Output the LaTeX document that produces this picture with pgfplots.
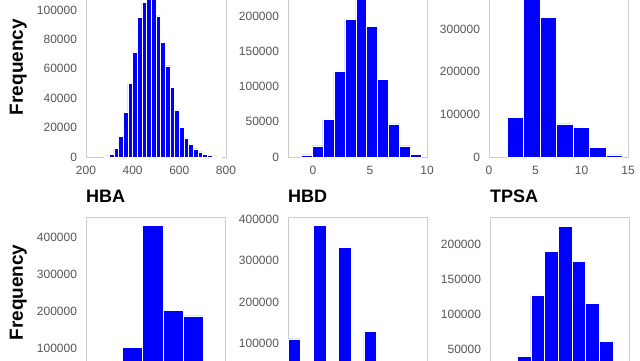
\documentclass[border=0pt]{standalone}
\usepackage{fontspec}
\setmainfont{Liberation Sans}
\usepackage{pgfplots}
\pgfplotsset{compat=1.18}
\definecolor{tickgray}{RGB}{85,85,85}
\definecolor{framegray}{RGB}{204,204,204}
\definecolor{barblue}{RGB}{0,0,255}
\pgfplotsset{
  hist/.style={
    scale only axis, width=139pt, height=168pt, anchor=south west,
    axis line style={framegray, line width=0.8pt},
    major tick length=0pt,
    tick label style={font=\fontsize{12}{12}\selectfont, text=tickgray},
    xticklabel style={yshift=-6pt},
    yticklabel style={xshift=-5.5pt},
    /pgf/number format/assume math mode=true,
    /pgf/number format/fixed,
    /pgf/number format/precision=0,
    /pgf/number format/1000 sep={},
    scaled ticks=false,
    ymin=0,
    title style={at={(0,1)}, anchor=base west, yshift=9pt, inner sep=0pt,
      font=\bfseries\fontsize{18}{18}\selectfont},
  },
  bars/.style={ybar interval, fill=barblue, draw=white, line width=0.5pt},
}
\begin{document}
\begin{tikzpicture}
\useasboundingbox (0,0) rectangle (640pt,360pt);
\clip (0,0) rectangle (640pt,360pt);
% ---------- top row ----------
\begin{axis}[hist, at={(86pt,203pt)}, width=140pt,
  xmin=200, xmax=800, ymax=114300,
  xtick={200,400,600,800}, ytick={0,20000,40000,60000,80000,100000}]
\addplot[bars] coordinates {
(280,700)(300,2000)(320,5700)(340,14000)(360,30600)(380,50000)(400,71400)
(420,95000)(440,105000)(460,109000)(480,108500)(500,96000)(520,78000)
(540,62000)(560,47600)(580,32000)(600,20000)(620,13000)(640,8500)
(660,5500)(680,3500)(700,2000)(720,1200)(740,700)(760,300)(780,0)};
\end{axis}
\begin{axis}[hist, at={(288pt,203pt)},
  xmin=-2.2, xmax=10, ymax=239000,
  xtick={0,5,10}, ytick={0,50000,100000,150000,200000}]
\addplot[bars] coordinates {
(-1.05,3000)(-0.09,16000)(0.87,53500)(1.83,121500)(2.79,196000)(3.75,228000)
(4.71,186000)(5.67,110000)(6.63,47000)(7.59,16000)(8.55,4000)(9.51,0)};
\end{axis}
\begin{axis}[hist, at={(489pt,203pt)},
  xmin=0, xmax=15, ymax=394000,
  xtick={0,5,10,15}, ytick={0,100000,200000,300000}]
\addplot[bars] coordinates {
(1.96,93200)(3.74,375000)(5.52,328000)(7.3,77500)(9.08,69700)(10.86,22800)
(12.64,4700)(14.42,0)};
\end{axis}
% ---------- bottom row ----------
\begin{axis}[hist, at={(86pt,-25pt)}, title={HBA},
  xmin=0, xmax=14, ymax=454000,
  xtick=\empty, ytick={100000,200000,300000,400000}]
\addplot[bars] coordinates {
(3.65,101000)(5.7,432000)(7.75,201000)(9.8,186500)(11.85,0)};
\end{axis}
\begin{axis}[hist, at={(288pt,-25pt)}, title={HBD},
  xmin=0, xmax=5.5, ymax=405000,
  xtick=\empty, ytick={100000,200000,300000,400000}]
\addplot[bars] coordinates {
(0,111000)(0.5,0)(1,385000)(1.5,0)(2,331000)(2.5,0)(3,129000)(3.5,0)};
\end{axis}
\begin{axis}[hist, at={(490pt,-25pt)}, title={TPSA},
  xmin=0, xmax=138.3, ymax=238200,
  xtick=\empty, ytick={50000,100000,150000,200000}]
\addplot[bars] coordinates {
(27,40600)(40.6,127200)(54.2,189000)(67.8,224600)(81.4,175400)(95,115600)
(108.6,61700)(122.2,0)};
\end{axis}
% ---------- shared y labels ----------
\node[rotate=90, font=\bfseries\fontsize{19}{19}\selectfont] at (18.3pt,293pt) {Frequency};
\node[rotate=90, font=\bfseries\fontsize{19}{19}\selectfont] at (18.3pt,67.5pt) {Frequency};
\end{tikzpicture}
\end{document}
